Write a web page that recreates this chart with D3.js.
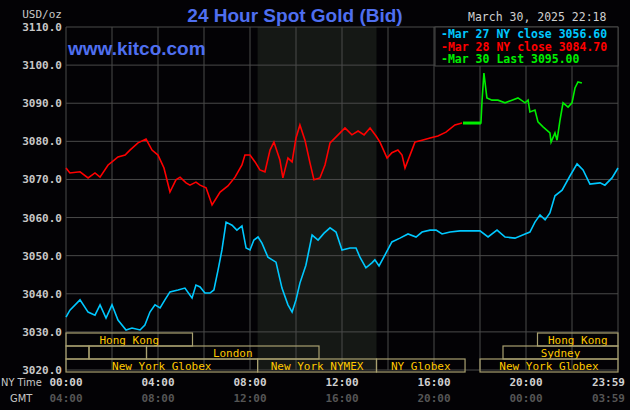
<!DOCTYPE html>
<html><head><meta charset="utf-8">
<script src="https://cdn.jsdelivr.net/npm/d3@7"></script>
<style>
body{margin:0;background:#030205;}
svg{display:block;font-family:"DejaVu Sans Mono",monospace;}
</style></head>
<body>
<svg id="chart" width="630" height="410"></svg>
<script>
// [hour of NY day, price]
const mar27 = [[0,3033.9],[.17,3035.7],[.61,3038.4],[.96,3035.2],[1.26,3034.4],[1.48,3037.1],[1.74,3033.6],[2.0,3037.1],[2.26,3033.1],[2.61,3030.5],[2.87,3031.0],[3.22,3030.5],[3.43,3031.8],[3.65,3035.2],[3.87,3037.1],[4.09,3036.3],[4.30,3038.4],[4.52,3040.5],[4.87,3041.0],[5.17,3041.5],[5.48,3038.9],[5.65,3042.3],[5.83,3041.8],[6.04,3040.2],[6.26,3040.2],[6.43,3041.0],[6.61,3046.2],[6.78,3051.5],[6.96,3058.8],[7.22,3058.0],[7.43,3056.7],[7.65,3057.8],[7.83,3052.0],[8.0,3051.5],[8.17,3054.1],[8.35,3054.9],[8.52,3053.3],[8.78,3049.6],[9.13,3048.3],[9.39,3041.5],[9.65,3037.1],[9.83,3035.2],[10.0,3038.4],[10.17,3042.8],[10.43,3047.5],[10.7,3055.4],[10.96,3054.1],[11.22,3055.9],[11.48,3057.3],[11.74,3056.2],[12.0,3051.5],[12.35,3052.0],[12.61,3052.0],[12.78,3049.6],[13.04,3046.8],[13.30,3048.1],[13.43,3048.9],[13.61,3047.3],[13.87,3050.2],[14.17,3053.6],[14.52,3054.6],[14.87,3055.7],[15.22,3054.9],[15.48,3056.2],[15.83,3056.7],[16.09,3056.7],[16.35,3055.7],[16.70,3056.2],[17.13,3056.5],[18.0,3056.5],[18.35,3054.9],[18.74,3056.7],[19.09,3054.9],[19.52,3054.6],[19.96,3055.7],[20.17,3056.2],[20.39,3058.8],[20.61,3060.7],[20.83,3059.4],[21.04,3061.2],[21.26,3065.7],[21.57,3067.2],[21.91,3070.9],[22.22,3074.1],[22.48,3072.5],[22.78,3068.8],[23.22,3069.1],[23.43,3068.5],[23.74,3070.4],[24.0,3073.0]];
const mar28 = [[0,3073.0],[.17,3071.7],[.61,3072.0],[.96,3070.4],[1.26,3071.7],[1.48,3070.6],[1.83,3073.8],[2.0,3074.6],[2.26,3075.9],[2.57,3076.4],[2.78,3077.7],[3.13,3079.6],[3.48,3080.6],[3.74,3077.7],[4.0,3076.4],[4.26,3073.0],[4.52,3066.7],[4.78,3069.9],[4.96,3070.6],[5.22,3069.1],[5.39,3068.5],[5.65,3069.3],[5.83,3068.5],[6.09,3067.8],[6.35,3063.3],[6.70,3066.7],[7.04,3068.3],[7.35,3070.6],[7.65,3073.8],[7.78,3076.4],[8.0,3076.4],[8.22,3074.6],[8.43,3072.5],[8.65,3072.0],[8.87,3077.7],[9.04,3079.8],[9.30,3075.1],[9.43,3070.4],[9.65,3075.6],[9.83,3074.6],[10.0,3080.9],[10.17,3084.3],[10.39,3080.3],[10.61,3074.3],[10.78,3069.9],[11.04,3070.4],[11.26,3073.8],[11.48,3079.6],[11.83,3081.7],[12.13,3083.5],[12.43,3081.7],[12.7,3082.7],[12.96,3081.7],[13.22,3083.5],[13.48,3081.4],[13.65,3079.8],[13.96,3075.6],[14.17,3077.0],[14.43,3077.7],[14.61,3076.4],[14.74,3073.0],[15.04,3077.7],[15.17,3079.8],[15.48,3080.3],[15.83,3080.9],[16.17,3081.4],[16.52,3082.4],[16.91,3084.3],[17.22,3084.8]];
const mar30 = [[17.26,3084.8],[18.04,3084.8],[18.09,3090.8],[18.17,3097.9],[18.30,3091.4],[18.52,3090.8],[18.78,3090.8],[19.09,3090.1],[19.39,3090.8],[19.65,3091.4],[19.96,3090.1],[20.09,3090.8],[20.17,3087.7],[20.39,3088.2],[20.52,3085.1],[20.74,3083.8],[21.04,3082.2],[21.09,3079.8],[21.26,3082.2],[21.35,3080.3],[21.48,3085.6],[21.61,3090.1],[21.83,3089.0],[22.0,3090.1],[22.13,3094.0],[22.26,3095.6],[22.43,3095.3]];
const nyTicks = ["00:00","04:00","08:00","12:00","16:00","20:00","23:59"];
const gmtTicks = ["04:00","08:00","12:00","16:00","20:00","00:00","03:59"];
const legendLabels = ["Mar 27 NY close 3056.60","Mar 28 NY close 3084.70","Mar 30 Last 3095.00"];
// sessions: [row, start hour, end hour, label]
const sessions = [[0,0,5.5,"Hong Kong"],[0,20.5,24,"Hong Kong"],[1,0,1,""],[1,1,3.5,""],[1,3.5,11,"London"],[1,19,24,"Sydney"],[2,0,8.33,"New York Globex"],[2,8.33,13.5,"New York NYMEX"],[2,13.5,17.35,"NY Globex"],[2,18,24,"New York Globex"]];

const svg = d3.select("#chart");
const pLeft = 66, pRight = 618, pTop = 27, pBottom = 370;
const x = d3.scaleLinear().domain([0, 24]).range([pLeft, pRight]);
const y = d3.scaleLinear().domain([3020, 3110]).range([pBottom, pTop]);
const colors = ["#00c8ff", "#ff0000", "#00ee00"];
const sans = "Liberation Sans, Arial, sans-serif";

// NYMEX shading
svg.append("rect").attr("x", x(8.33)).attr("y", pTop).attr("width", x(13.5) - x(8.33))
  .attr("height", pBottom - pTop).attr("fill", "#151815");

// grid
svg.append("g").selectAll("line").data(d3.range(0, 25, 2)).join("line")
  .attr("x1", d => x(d)).attr("x2", d => x(d)).attr("y1", pTop).attr("y2", pBottom)
  .attr("stroke", "#4a4a4a");
svg.append("g").selectAll("line").data(d3.range(3020, 3111, 10)).join("line")
  .attr("x1", pLeft).attr("x2", pRight).attr("y1", d => y(d)).attr("y2", d => y(d))
  .attr("stroke", "#4a4a4a");

// y labels
svg.append("g").selectAll("text").data(d3.range(3020, 3111, 10)).join("text")
  .attr("x", 62).attr("y", d => y(d) + 4).attr("text-anchor", "end")
  .attr("fill", "#c8c8c8").attr("font-size", 11).attr("font-weight", "bold")
  .text(d => d.toFixed(1));
svg.append("text").attr("x", 62).attr("y", 18).attr("text-anchor", "end")
  .attr("fill", "#c8c8c8").attr("font-size", 11).text("USD/oz");

// lines
const line = d3.line().x(d => x(d[0])).y(d => y(d[1]));
[mar27, mar28, mar30].forEach((s, i) => {
  svg.append("path").datum(s).attr("d", line).attr("fill", "none")
    .attr("stroke", colors[i]).attr("stroke-width", 1.6);
});
svg.append("path").datum(mar30.slice(0, 2)).attr("d", line)
  .attr("stroke", colors[2]).attr("stroke-width", 3);

// sessions
const rowH = 13;
const sg = svg.append("g");
sessions.forEach(([r, a, b, name]) => {
  const yy = pBottom - 37 + r * rowH;
  sg.append("rect").attr("x", x(a)).attr("y", yy).attr("width", x(b) - x(a)).attr("height", rowH)
    .attr("fill", "none").attr("stroke", "#a8a070").attr("stroke-width", 1.2);
  sg.append("text").attr("x", (x(a) + x(b)) / 2).attr("y", yy + 10.5).attr("text-anchor", "middle")
    .attr("fill", "#ffc800").attr("font-size", 11).text(name);
});

// x labels
svg.append("g").selectAll("text").data(nyTicks).join("text")
  .attr("x", (d, i) => i === 6 ? 625 : x(i * 4)).attr("y", 386)
  .attr("text-anchor", (d, i) => i === 6 ? "end" : "middle")
  .attr("fill", "#d0d0d0").attr("font-size", 11).attr("font-weight", "bold").text(d => d);
svg.append("g").selectAll("text").data(gmtTicks).join("text")
  .attr("x", (d, i) => i === 6 ? 625 : x(i * 4)).attr("y", 402)
  .attr("text-anchor", (d, i) => i === 6 ? "end" : "middle")
  .attr("fill", "#555").attr("font-size", 11).attr("font-weight", "bold").text(d => d);
svg.append("text").attr("x", 1).attr("y", 386).attr("fill", "#c8c8c8").attr("font-size", 11)
  .style("font-family", "DejaVu Sans Condensed, sans-serif").text("NY Time");
svg.append("text").attr("x", 10).attr("y", 402).attr("fill", "#c8c8c8").attr("font-size", 11)
  .style("font-family", "DejaVu Sans Condensed, sans-serif").text("GMT");

// titles
svg.append("text").attr("x", 295).attr("y", 22).attr("text-anchor", "middle")
  .attr("fill", "#4f6ff0").attr("font-size", 19).attr("font-weight", "bold")
  .style("font-family", sans).text("24 Hour Spot Gold (Bid)");
svg.append("text").attr("x", 68).attr("y", 55)
  .attr("fill", "#4f6ff0").attr("font-size", 19).attr("font-weight", "bold")
  .style("font-family", sans).text("www.kitco.com");
svg.append("text").attr("x", 468).attr("y", 21).attr("fill", "#d0d0d0").attr("font-size", 11.5)
  .text("March 30, 2025 22:18");

// legend
svg.append("rect").attr("x", 435).attr("y", pTop).attr("width", pRight - 435).attr("height", 39)
  .attr("fill", "#030205").attr("stroke", "#4a4a4a");
legendLabels.forEach((t, i) => {
  svg.append("text").attr("x", 441).attr("y", 38 + i * 12.5).attr("fill", colors[i])
    .attr("font-size", 11.5).attr("font-weight", "bold").text("-" + t);
});
</script>
</body></html>
